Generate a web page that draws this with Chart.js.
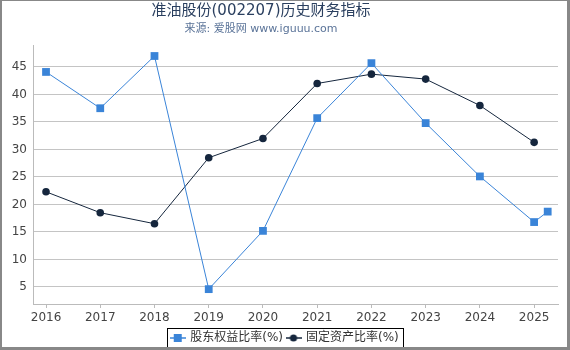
<!DOCTYPE html>
<html>
<head>
<meta charset="utf-8">
<script src="https://cdn.jsdelivr.net/npm/chart.js@4/dist/chart.umd.min.js"></script>
<style>
  html, body { margin: 0; padding: 0; background: #fff; }
  #wrap { position: relative; width: 570px; height: 350px; }
  #frame { position: absolute; left: 0; top: 0; width: 570px; height: 350px; box-sizing: border-box;
           border-left: 2px solid #888; border-top: 1px solid #888; border-right: 3px solid #888; border-bottom: 3px solid #888;
           pointer-events: none; }
</style>
</head>
<body>
<div id="wrap">
  <canvas id="c" width="570" height="350"></canvas>
  <div id="frame"></div>
</div>
<script>
// ---- data ----
const titleText = '准油股份(002207)历史财务指标';
const subtitleText = '来源: 爱股网 www.iguuu.com';
const seriesNames = ['股东权益比率(%)', '固定资产比率(%)'];
const xTickYears = [2016, 2017, 2018, 2019, 2020, 2021, 2022, 2023, 2024, 2025];
const equityX = [2016, 2017, 2018, 2019, 2020, 2021, 2022, 2023, 2024, 2025, 2025.25];
const equityRatio = [44.1, 37.5, 47.0, 4.6, 15.2, 35.7, 45.7, 34.8, 25.1, 16.8, 18.7];
const fixedX = [2016, 2017, 2018, 2019, 2020, 2021, 2022, 2023, 2024, 2025];
const fixedAssetRatio = [22.3, 18.5, 16.5, 28.5, 32.0, 42.0, 43.7, 42.8, 38.0, 31.3];
const yTickValues = [5, 10, 15, 20, 25, 30, 35, 40, 45];

const BLUE = '#3a84d8';
const NAVY = '#15263d';
const FONT = "'DejaVu Sans', 'Noto Sans CJK SC', sans-serif";

function legendIcon(color, shape) {
  const cv = document.createElement('canvas');
  cv.width = 16; cv.height = 10;
  const g = cv.getContext('2d');
  g.strokeStyle = color; g.lineWidth = 1.5;
  g.beginPath(); g.moveTo(0, 5); g.lineTo(16, 5); g.stroke();
  g.fillStyle = color;
  if (shape === 'rect') { g.fillRect(4, 1, 8, 8); }
  else { g.beginPath(); g.arc(8, 5, 3.6, 0, Math.PI * 2); g.fill(); }
  return cv;
}
const icons = [legendIcon(BLUE, 'rect'), legendIcon(NAVY, 'circle')];

const titles = {
  id: 'titles',
  afterDraw(chart) {
    const ctx = chart.ctx;
    ctx.save();
    ctx.textAlign = 'center';
    ctx.textBaseline = 'middle';
    ctx.fillStyle = '#2a3f5f';
    ctx.font = '15px ' + FONT;
    ctx.fillText(titleText, 261, 11);
    ctx.fillStyle = '#5a7398';
    ctx.font = '11px ' + FONT;
    ctx.fillText(subtitleText, 261, 29);
    ctx.restore();
  }
};

const legendBox = {
  id: 'legendBox',
  afterDraw(chart) {
    const lg = chart.legend;
    if (!lg || !lg.legendHitBoxes || !lg.legendHitBoxes.length) return;
    const hb = lg.legendHitBoxes;
    const left = hb[0].left - 4;
    const last = hb[hb.length - 1];
    const right = last.left + last.width + 4;
    const top = hb[0].top - 4;
    const bottom = hb[0].top + hb[0].height + 6;
    const ctx = chart.ctx;
    ctx.save();
    ctx.strokeStyle = '#000';
    ctx.lineWidth = 1;
    ctx.strokeRect(Math.round(left) + 0.5, Math.round(top) + 0.5, Math.round(right - left), Math.round(bottom - top));
    ctx.restore();
  }
};

new Chart(document.getElementById('c'), {
  type: 'line',
  data: {
    datasets: [
      {
        label: seriesNames[0],
        data: equityX.map((x, i) => ({ x: x, y: equityRatio[i] })),
        borderColor: BLUE, backgroundColor: BLUE,
        borderWidth: 1, pointStyle: 'rect', pointRadius: 5.5,
        pointBackgroundColor: BLUE, pointBorderColor: BLUE, pointBorderWidth: 0,
        tension: 0
      },
      {
        label: seriesNames[1],
        data: fixedX.map((x, i) => ({ x: x, y: fixedAssetRatio[i] })),
        borderColor: NAVY, backgroundColor: NAVY,
        borderWidth: 1, pointStyle: 'circle', pointRadius: 3.8,
        pointBackgroundColor: NAVY, pointBorderColor: NAVY, pointBorderWidth: 0,
        tension: 0
      }
    ]
  },
  options: {
    responsive: false,
    animation: false,
    layout: { padding: { left: 0, right: 0, top: 45, bottom: -4 } },
    plugins: {
      title: { display: false },
      subtitle: { display: false },
      legend: {
        position: 'bottom',
        labels: {
          font: { family: FONT, size: 12 }, color: '#333',
          usePointStyle: true, pointStyleWidth: 13, padding: 4, boxHeight: 10,
          generateLabels(chart) {
            return chart.data.datasets.map((ds, i) => ({
              text: ds.label, pointStyle: icons[i], fillStyle: ds.borderColor,
              strokeStyle: ds.borderColor, lineWidth: 0, hidden: false, datasetIndex: i,
              fontColor: '#333'
            }));
          }
        }
      },
      tooltip: { enabled: false }
    },
    scales: {
      x: {
        type: 'linear', min: 2015.76, max: 2025.44,
        afterBuildTicks(scale) { scale.ticks = xTickYears.map(v => ({ value: v })); },
        afterFit(scale) { scale.height = 24; },
        ticks: {
          callback: v => String(v), color: '#444', padding: 3, maxRotation: 0, autoSkip: false,
          font: { family: FONT, size: 12 }
        },
        grid: { display: true, drawOnChartArea: false, drawTicks: true, tickLength: 4, color: '#bbb' },
        border: { display: true, color: '#bbb', width: 1 }
      },
      y: {
        min: 1.9, max: 49,
        afterBuildTicks(scale) { scale.ticks = yTickValues.map(v => ({ value: v })); },
        afterFit(scale) { scale.width = 33; },
        ticks: { color: '#444', padding: 6, font: { family: FONT, size: 12 }, callback: v => String(v) },
        grid: { color: '#c4c4c4', drawTicks: false, lineWidth: 1 },
        border: { display: true, color: '#bbb', width: 1 }
      },
      yRightSpacer: {
        position: 'right', min: 0, max: 1,
        afterFit(scale) { scale.width = 12; },
        ticks: { display: false },
        grid: { display: false, drawTicks: false },
        border: { display: false }
      }
    }
  },
  plugins: [legendBox, titles]
});
</script>
</body>
</html>
